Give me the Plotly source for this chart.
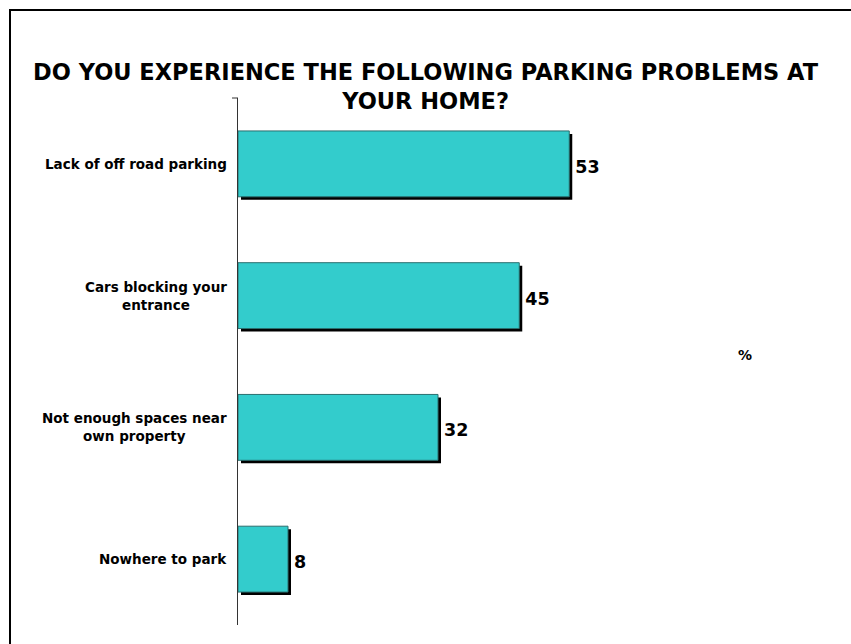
import plotly.graph_objects as go

categories = ["Lack of off road parking", "Cars blocking your<br>entrance",
              "Not enough spaces near<br>own property", "Nowhere to park"]
values = [53, 45, 32, 8]
title_text = "DO YOU EXPERIENCE THE FOLLOWING PARKING PROBLEMS AT<br>YOUR HOME?"
unit_label = "%"

FONT = "Verdana, DejaVu Sans, sans-serif"
W, H = 851, 644
L, R, T, B = 238, 113, 98, 19
pw, ph = W - L - R, H - T - B
xmax = 80
ppu_x = pw / xmax
ppu_y = ph / 4
shadow_dx = 3 / ppu_x
shadow_dy = 3 / ppu_y
bar_w = 0.5

fig = go.Figure()
fig.add_trace(go.Bar(
    y=list(range(len(categories))), x=values, orientation="h",
    base=[shadow_dx] * len(values), width=bar_w, offset=-bar_w / 2 + shadow_dy,
    marker=dict(color="black", line=dict(width=0)),
    text=[str(v) for v in values], textposition="outside",
    textfont=dict(family=FONT, size=17.5, color="black", weight="bold"),
    cliponaxis=False, hoverinfo="skip", showlegend=False,
))
fig.add_trace(go.Bar(
    y=list(range(len(categories))), x=values, orientation="h",
    width=bar_w, offset=-bar_w / 2,
    marker=dict(color="#33CCCC", line=dict(color="#2A6F6F", width=1)),
    showlegend=False,
))

annotations = []
for i, c in enumerate(categories):
    annotations.append(dict(
        x=-9 / pw, xref="paper", y=i, yref="y", text="<b>" + c + "</b>",
        showarrow=False, xanchor="right", yanchor="middle", align="center",
        font=dict(family=FONT, size=13.5, color="black"),
    ))
annotations.append(dict(
    x=(745 - L) / pw, xref="paper", y=(H - B - 355) / ph, yref="paper",
    text="<b>" + unit_label + "</b>", showarrow=False,
    xanchor="center", yanchor="middle",
    font=dict(family=FONT, size=14, color="black"),
))
annotations.append(dict(
    x=(426 - L) / pw, xref="paper", y=(H - B - 86) / ph, yref="paper",
    text="<b>" + title_text + "</b>", showarrow=False,
    xanchor="center", yanchor="middle", align="center",
    font=dict(family=FONT, size=22.5, color="black"),
))

shapes = [
    dict(type="rect", xref="paper", yref="paper",
         x0=(10 - L) / pw, x1=(870 - L) / pw,
         y0=(H - B - 680) / ph, y1=(H - B - 10) / ph,
         line=dict(color="black", width=2), fillcolor="rgba(0,0,0,0)", layer="below"),
    dict(type="line", xref="paper", yref="paper",
         x0=-6 / pw, x1=0, y0=1, y1=1, line=dict(color="#333333", width=1)),
]

fig.update_layout(
    width=W, height=H, margin=dict(l=L, r=R, t=T, b=B),
    paper_bgcolor="white", plot_bgcolor="white",
    barmode="overlay",
    xaxis=dict(range=[0, xmax], visible=False, fixedrange=True),
    yaxis=dict(range=[3.5, -0.5], showticklabels=False, ticks="",
               showgrid=False, zeroline=False, showline=True,
               linecolor="#333333", linewidth=1),
    annotations=annotations, shapes=shapes,
)

fig.write_html("out.html", config={"displayModeBar": False},
               post_script="document.body.style.margin='0';")
